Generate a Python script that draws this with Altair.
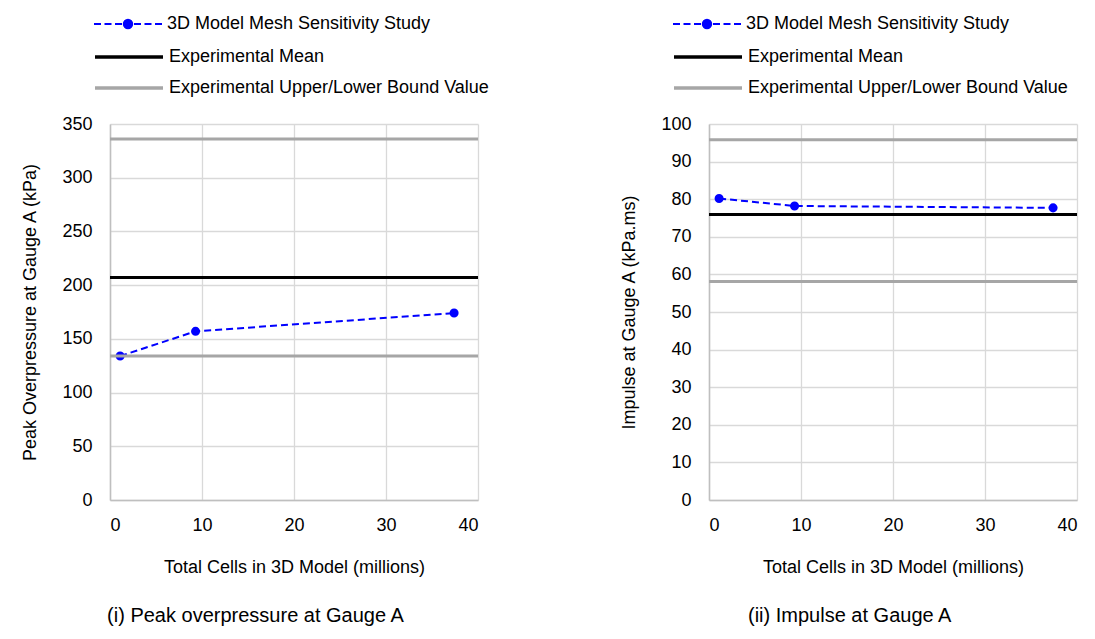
import altair as alt
import pandas as pd

# ---- data ----
cells = [1.1, 9.3, 37.4]                 # total cells (millions)
peak_model = [134, 157, 174]              # kPa
impulse_model = [80.2, 78.2, 77.7]        # kPa.ms
peak_mean = [207]
peak_bounds = [336, 134]
impulse_mean = [75.9]
impulse_bounds = [95.8, 58.1]

model_name = "3D Model Mesh Sensitivity Study"
ref_names = ["Experimental Mean", "Experimental Upper/Lower Bound Value"]
model_color = "#0000FF"
ref_colors = ["#000000", "#A6A6A6"]
x_ticks = [0, 10, 20, 30, 40]
peak_ticks = [0, 50, 100, 150, 200, 250, 300, 350]
impulse_ticks = [0, 10, 20, 30, 40, 50, 60, 70, 80, 90, 100]

FONT = "Liberation Sans"
W, H = 368, 376

model_path = ("M-3.4,0H-2.7M-2.35,0H-1.65M-1.3,0H-0.6"
              "M0.6,0H1.3M1.65,0H2.35M2.7,0H3.4"
              "M0.42,0A0.42,0.42 0 1,1 -0.42,0A0.42,0.42 0 1,1 0.42,0Z")
line_path = "M-3.4,0H3.4"


def panel(model_vals, mean_vals, bound_vals, y_max, y_ticks, y_title, caption, lx, ly):
    model_df = pd.DataFrame({"x": cells, "y": model_vals, "model": model_name})
    ref_df = pd.DataFrame({
        "y": mean_vals + bound_vals,
        "ref": [ref_names[0]] * len(mean_vals) + [ref_names[1]] * len(bound_vals),
    })
    common = dict(orient="none", legendX=lx, direction="vertical", title=None,
                  symbolSize=400, labelFont=FONT, labelFontSize=18,
                  labelColor="#000000", labelOffset=28, rowPadding=10, labelLimit=600,
                  symbolOpacity=1)
    leg_model = alt.Legend(legendY=ly, symbolType=model_path, symbolStrokeWidth=2,
                           symbolFillColor=model_color, symbolStrokeColor=model_color,
                           **common)
    leg_ref = alt.Legend(legendY=ly + 32, symbolType=line_path, symbolStrokeWidth=3.5,
                         **common)
    mscale = alt.Scale(domain=[model_name], range=[model_color])
    x = alt.X("x:Q", scale=alt.Scale(domain=[0, 40], nice=False),
              axis=alt.Axis(values=x_ticks, title="Total Cells in 3D Model (millions)",
                            labelPadding=16, titlePadding=24, labelOverlap=False))
    y = alt.Y("y:Q", scale=alt.Scale(domain=[0, y_max], nice=False),
              axis=alt.Axis(values=y_ticks, title=y_title, labelPadding=18,
                            titlePadding=22, labelOverlap=False))
    line = alt.Chart(model_df).mark_line(strokeDash=[7, 4], strokeWidth=2,
                                         color=model_color).encode(x=x, y=y)
    pts = alt.Chart(model_df).mark_circle(size=50, opacity=1, strokeWidth=2).encode(
        x=x, y=y,
        fill=alt.Fill("model:N", scale=mscale, legend=leg_model),
        stroke=alt.Stroke("model:N", scale=mscale, legend=leg_model))
    rules = alt.Chart(ref_df).mark_rule(strokeWidth=3).encode(
        y=y,
        color=alt.Color("ref:N", scale=alt.Scale(domain=ref_names, range=ref_colors),
                        legend=leg_ref))
    return alt.layer(line, pts, rules).properties(
        width=W, height=H,
        title=alt.TitleParams(caption, orient="bottom", offset=30, fontSize=20,
                              font=FONT, fontWeight="normal", color="#000000",
                              anchor="middle", frame="bounds"),
    )


left = panel(peak_model, peak_mean, peak_bounds, 350, peak_ticks,
             "Peak Overpressure at Gauge A (kPa)", "(i) Peak overpressure at Gauge A",
             7, -111)
right = panel(impulse_model, impulse_mean, impulse_bounds, 100, impulse_ticks,
              "Impulse at Gauge A (kPa.ms)", "(ii) Impulse at Gauge A",
              -13, -111)

chart = alt.hconcat(left, right, spacing=131).resolve_scale(
    color="independent", fill="independent", stroke="independent").resolve_legend(
    color="independent", fill="independent", stroke="independent").configure_view(
    stroke=None).configure_axis(
    labelFont=FONT, labelFontSize=18, labelColor="#000000", titleFont=FONT,
    titleFontSize=18, titleFontWeight="normal", titleColor="#000000",
    gridColor="#D9D9D9", gridWidth=1.3, domainColor="#BFBFBF", domainWidth=1.5,
    ticks=False).properties(
    padding={"left": 21, "top": 13, "right": 2, "bottom": 2})

chart.save("out.html", embed_options={"renderer": "svg", "actions": False})
